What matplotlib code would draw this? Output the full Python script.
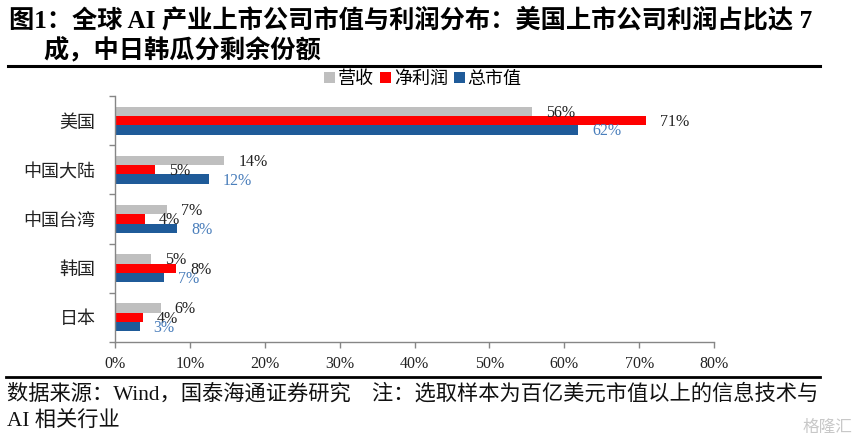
import matplotlib
matplotlib.use('Agg')
import matplotlib.pyplot as plt
from matplotlib.lines import Line2D
from matplotlib.patches import Patch
import numpy as np

# ---- data ----
categories = ['美国', '中国大陆', '中国台湾', '韩国', '日本']
series_names = ['营收', '净利润', '总市值']
revenue = [55.7, 14.6, 6.9, 4.8, 6.1]
profit = [70.9, 5.3, 4.0, 8.2, 3.7]
mktcap = [61.9, 12.5, 8.3, 6.6, 3.3]
revenue_labels = ['56%', '14%', '7%', '5%', '6%']
profit_labels = ['71%', '5%', '4%', '8%', '4%']
mktcap_labels = ['62%', '12%', '8%', '7%', '3%']
x_ticks = [0, 10, 20, 30, 40, 50, 60, 70, 80]
x_tick_labels = ['0%', '10%', '20%', '30%', '40%', '50%', '60%', '70%', '80%']

title_line1 = '图1：全球 AI 产业上市公司市值与利润分布：美国上市公司利润占比达 7'
title_line2 = '成，中日韩瓜分剩余份额'
source_line1 = '数据来源：Wind，国泰海通证券研究　注：选取样本为百亿美元市值以上的信息技术与'
source_line2 = 'AI 相关行业'

# ---- style ----
SERIF = ['Liberation Serif', 'Noto Sans CJK SC', 'DejaVu Sans']
CJK = ['Noto Sans CJK SC', 'Liberation Serif', 'DejaVu Sans']
GREY = '#bfbfbf'
RED = '#ff0000'
BLUE = '#1f5b99'
LABEL_BLUE = '#4a7ebb'
AXIS_COL = '#868686'

W, H = 858, 441
fig = plt.figure(figsize=(W / 100, H / 100), dpi=100)

def fx(px):
    return px / W

def fy(py):
    return 1 - py / H

ax = fig.add_axes([fx(115), fy(342), fx(714) - fx(115), fy(96) - fy(342)])

y = np.arange(len(categories))
h = 0.19
series = [(revenue, revenue_labels, GREY, '#222222', -h),
          (profit, profit_labels, RED, '#222222', 0.0),
          (mktcap, mktcap_labels, BLUE, LABEL_BLUE, h)]
for vals, labs, col, lcol, off in series:
    ax.barh(y + off, vals, height=h, color=col, edgecolor='none')
    for yy, v, lab in zip(y + off, vals, labs):
        ax.annotate(lab, xy=(v, yy), xytext=(10, -1), textcoords='offset points',
                    ha='left', va='center', fontsize=11.5, family=SERIF, color=lcol)

ax.set_xlim(0, 80)
ax.set_ylim(len(categories) - 0.5, -0.5)
ax.set_xticks(x_ticks)
ax.set_xticklabels(x_tick_labels, family=SERIF, fontsize=11.5, color='#222222')
ax.set_yticks(y)
ax.set_yticklabels(categories, family=CJK, fontsize=13, color='#222222')
ax.set_yticks(np.arange(-0.5, len(categories)), minor=True)
ax.tick_params(axis='y', which='major', length=0, pad=14)
ax.tick_params(axis='y', which='minor', length=4, width=1, color=AXIS_COL, direction='out')
ax.tick_params(axis='x', which='major', length=4, width=1, color=AXIS_COL, direction='out', pad=6)
for s in ['top', 'right']:
    ax.spines[s].set_visible(False)
for s in ['left', 'bottom']:
    ax.spines[s].set_color(AXIS_COL)
    ax.spines[s].set_linewidth(1)

# legend
handles = [Patch(facecolor=c, edgecolor='none') for c in (GREY, RED, BLUE)]
fig.legend(handles, series_names, loc='center', bbox_to_anchor=(fx(423), fy(79)),
           ncol=3, frameon=False, handlelength=0.6, handleheight=0.6,
           handletextpad=0.15, columnspacing=0.35,
           prop={'family': CJK, 'size': 13})

# title
fig.text(fx(9), fy(20), title_line1, family=SERIF, fontsize=18.2, fontweight='bold',
         ha='left', va='center', color='black')
fig.text(fx(43), fy(50), title_line2, family=SERIF, fontsize=18.2, fontweight='bold',
         ha='left', va='center', color='black')
fig.add_artist(Line2D([fx(8), fx(820)], [fy(66), fy(66)], color='black', lw=2.2))

# source
fig.add_artist(Line2D([fx(6), fx(820)], [fy(377), fy(377)], color='black', lw=2.0))
fig.text(fx(7), fy(394), source_line1, family=SERIF, fontsize=15.3,
         ha='left', va='center', color='#111111')
fig.text(fx(7), fy(421), source_line2, family=SERIF, fontsize=15.3,
         ha='left', va='center', color='#111111')

# watermark
fig.text(fx(852), fy(427), '格隆汇', family=CJK, fontsize=12, ha='right', va='center',
         color='#c8c8c8')

fig.savefig('out.png', dpi=100)
